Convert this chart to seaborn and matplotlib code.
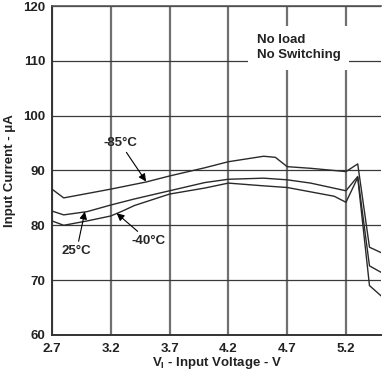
"""Input current vs input voltage for three temperatures, drawn with seaborn"""
import matplotlib
matplotlib.use("Agg")
import matplotlib.pyplot as plt
import seaborn as sns
import pandas as pd

# data
x_m85 = [2.7, 2.8, 3.2, 3.5, 3.7, 4.0, 4.2, 4.5, 4.6, 4.7, 4.9, 5.2, 5.3, 5.4, 5.5]
y_m85 = [86.6, 85.0, 86.6, 87.9, 89.0, 90.5, 91.6, 92.6, 92.4, 90.7, 90.4, 89.8, 91.2, 76.0, 75.0]

x_25 = [2.7, 2.8, 3.0, 3.2, 3.4, 3.7, 4.0, 4.2, 4.5, 4.7, 4.9, 5.2, 5.3, 5.4, 5.5]
y_25 = [82.6, 81.9, 82.5, 83.7, 84.8, 86.3, 87.8, 88.4, 88.6, 88.3, 87.7, 86.3, 88.9, 72.6, 71.4]

x_m40 = [2.7, 2.8, 3.0, 3.2, 3.3, 3.4, 3.7, 4.0, 4.2, 4.5, 4.7, 4.9, 5.1, 5.2, 5.3, 5.4, 5.5]
y_m40 = [80.8, 80.0, 80.8, 81.7, 82.6, 83.6, 85.7, 86.8, 87.7, 87.2, 86.9, 86.1, 85.3, 84.2, 88.7, 69.0, 67.1]

x_ticks = [2.7, 3.2, 3.7, 4.2, 4.7, 5.2]
y_ticks = [60, 70, 80, 90, 100, 110, 120]

sns.set_theme(style="white")
plt.rcParams["font.family"] = ["Liberation Sans", "DejaVu Sans"]
plt.rcParams["font.weight"] = "bold"
plt.rcParams["mathtext.fontset"] = "custom"
plt.rcParams["mathtext.rm"] = "Liberation Sans:bold"
plt.rcParams["mathtext.it"] = "Liberation Sans:bold"

fig = plt.figure(figsize=(3.82, 3.81), dpi=100)
ax = fig.add_axes([0.136, 0.121, 0.862, 0.863])

# grid first so the curves sit on top
for xv in x_ticks:
    ax.axvline(xv, color="#707070", lw=1.6, zorder=1)
for yv in y_ticks:
    ax.axhline(yv, color="#3a3a3a", lw=0.9, zorder=1)

for xs, ys in [(x_m85, y_m85), (x_25, y_25), (x_m40, y_m40)]:
    df = pd.DataFrame({"v": xs, "i": ys})
    sns.lineplot(data=df, x="v", y="i", ax=ax, color="#2a2a2a", lw=1.0,
                 sort=False, estimator=None, zorder=3)

ax.set_xlim(2.7, 5.5)
ax.set_ylim(60, 120)
ax.set_xticks(x_ticks)
ax.set_xticklabels([f"{v:.1f}" for v in x_ticks])
ax.set_yticks(y_ticks)
ax.tick_params(axis="both", length=0, labelsize=9.5, colors="#222222")
ax.tick_params(axis="x", pad=6)
ax.tick_params(axis="y", pad=5)
for lab in ax.get_xticklabels() + ax.get_yticklabels():
    lab.set_fontweight("bold")

for side in ["left", "bottom"]:
    ax.spines[side].set_color("#333333")
    ax.spines[side].set_linewidth(1.4)
ax.spines["top"].set_color("#555555")
ax.spines["top"].set_linewidth(1.2)
ax.spines["right"].set_visible(False)

ax.set_xlabel(r"V$_\mathrm{I}$ - Input Voltage - V", fontsize=9.5,
              fontweight="bold", color="#222222", labelpad=0)
ax.set_ylabel("Input Current - μA", fontsize=9.5, fontweight="bold",
              color="#222222", labelpad=5)

# temperature callouts
arrow = dict(arrowstyle="-|>", color="black", lw=0.8, mutation_scale=11,
             shrinkA=0, shrinkB=0)
ax.annotate("-85°C", xy=(3.50, 88.0), xytext=(3.28, 95.0), fontsize=9.5,
            fontweight="bold", ha="center", va="center", arrowprops=arrow, zorder=5)
ax.annotate("25°C", xy=(2.98, 82.5), xytext=(2.91, 75.4), fontsize=9.5,
            fontweight="bold", ha="center", va="center", arrowprops=arrow, zorder=5)
ax.annotate("-40°C", xy=(3.25, 82.2), xytext=(3.52, 77.2), fontsize=9.5,
            fontweight="bold", ha="center", va="center", arrowprops=arrow, zorder=5)

ax.text(4.44, 112.4, "No load\nNo Switching", fontsize=9.5, fontweight="bold",
        ha="left", va="center", linespacing=1.35, color="#222222", zorder=5,
        bbox=dict(facecolor="white", edgecolor="none", pad=6))

fig.savefig("out.png", dpi=100)
